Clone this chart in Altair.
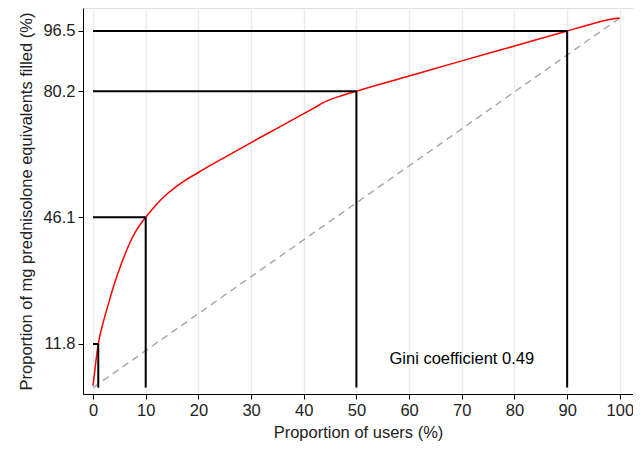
import altair as alt
import pandas as pd

# Lorenz curve
users = [0, 0.5, 1, 2, 3, 4, 5, 6, 7, 8, 9, 10, 12, 14, 17, 20, 25, 30, 35, 40, 42, 44, 45, 47, 50, 60, 70, 80, 90, 95, 98, 100]
share = [0.5, 6.5, 11.8, 18, 23, 27.8, 32, 35.8, 39.2, 42, 44.2, 46.1, 49.5, 52.3, 55.6, 58.2, 62.3, 66.3, 70.2, 74.1, 75.7, 77.3, 77.9, 78.9, 80.2, 84.3, 88.4, 92.4, 96.5, 98.5, 99.6, 100]

ref_x = [1, 10, 50, 90]
ref_y = [11.8, 46.1, 80.2, 96.5]

diag_x = [0, 100]
diag_y = [0, 100]

x_ticks = [0, 10, 20, 30, 40, 50, 60, 70, 80, 90, 100]

FONT = "Liberation Sans"
FS = 16.5

curve_df = pd.DataFrame({"x": users, "y": share})
ref_df = pd.DataFrame({"x": ref_x, "y": ref_y, "zero": [0] * len(ref_x)})
diag_df = pd.DataFrame({"x": diag_x, "y": diag_y})
text_df = pd.DataFrame({"x": [70], "y": [7.7], "t": ["Gini coefficient 0.49"]})

xscale = alt.Scale(domain=[-1.9, 102.5], nice=False, zero=False)
yscale = alt.Scale(domain=[-1.73, 102.7], nice=False, zero=False)

xaxis = alt.Axis(values=x_ticks, title="Proportion of users (%)", grid=True,
                 gridColor="#e6edf1", gridWidth=1.5, domainColor="black",
                 tickColor="black", labelColor="#222", titleColor="#222",
                 labelFont=FONT, titleFont=FONT, labelFontSize=FS, titleFontSize=FS,
                 titleFontWeight="normal", tickSize=5, labelPadding=3, titlePadding=6)
yaxis = alt.Axis(values=ref_y, format=".1f", title="Proportion of mg prednisolone equivalents filled (%)",
                 grid=False, domainColor="black", tickColor="black", labelColor="#222",
                 titleColor="#222", labelFont=FONT, titleFont=FONT, labelFontSize=FS,
                 titleFontSize=FS, titleFontWeight="normal", tickSize=5, labelPadding=3,
                 titlePadding=8)

base_x = alt.X("x:Q", scale=xscale, axis=xaxis)
base_y = alt.Y("y:Q", scale=yscale, axis=yaxis)

diag = alt.Chart(diag_df).mark_line(color="#aaaaaa", strokeDash=[7, 5], strokeWidth=1.5).encode(
    x=base_x, y=base_y)
curve = alt.Chart(curve_df).mark_line(color="#ff0000", strokeWidth=1.5, interpolate="monotone").encode(
    x=alt.X("x:Q", scale=xscale), y=alt.Y("y:Q", scale=yscale))
vrules = alt.Chart(ref_df).mark_rule(color="black", strokeWidth=2).encode(
    x=alt.X("x:Q", scale=xscale), y=alt.Y("zero:Q", scale=yscale), y2="y:Q")
hrules = alt.Chart(ref_df).mark_rule(color="black", strokeWidth=2).encode(
    x=alt.X("zero:Q", scale=xscale), x2="x:Q", y=alt.Y("y:Q", scale=yscale))
label = alt.Chart(text_df).mark_text(font=FONT, fontSize=FS, color="black").encode(
    x=alt.X("x:Q", scale=xscale), y=alt.Y("y:Q", scale=yscale), text="t:N")

chart = alt.layer(diag, curve, vrules, hrules, label).properties(
    width=550, height=386,
    autosize=alt.AutoSizeParams(type="none"),
    padding={"left": 75, "top": 0, "right": 0, "bottom": 48},
).configure_view(stroke=None).configure(background="white")

chart.save("out.html", embed_options={"renderer": "svg", "actions": False})
